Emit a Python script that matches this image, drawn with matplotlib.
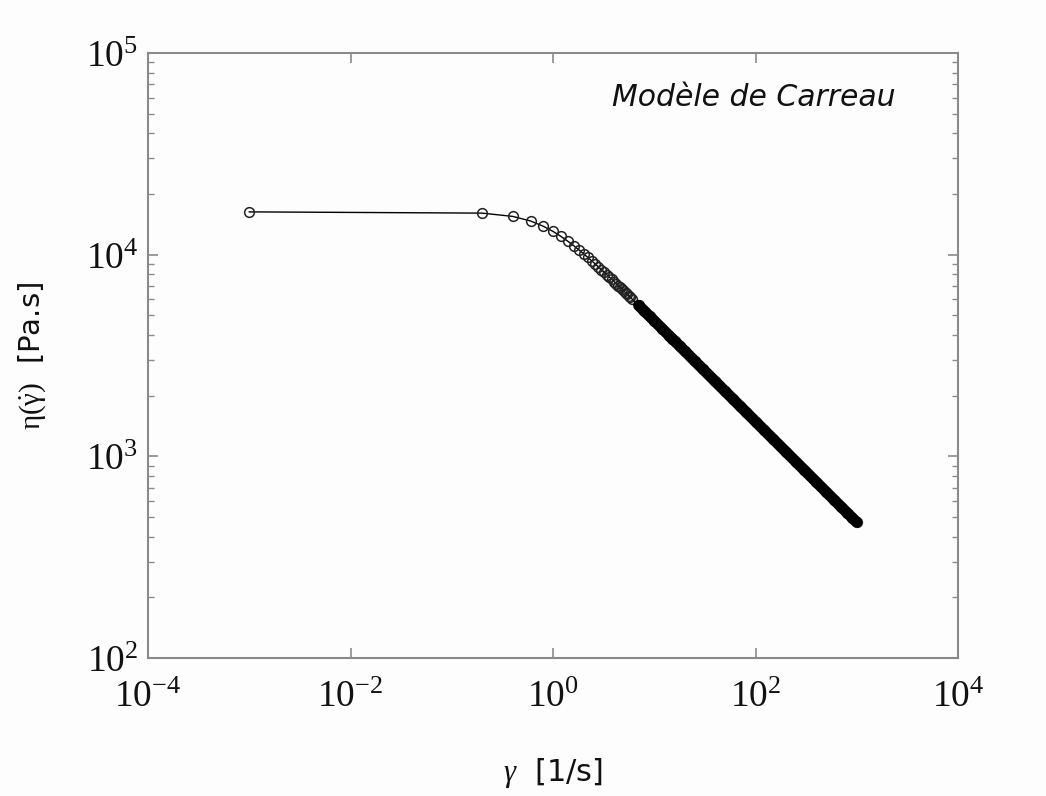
import matplotlib
matplotlib.use("Agg")
import matplotlib.pyplot as plt
from matplotlib.ticker import FixedLocator, FixedFormatter, LogLocator, NullFormatter
import numpy as np

plt.rcParams['mathtext.fontset'] = 'custom'
plt.rcParams['mathtext.rm'] = 'Liberation Serif'
plt.rcParams['mathtext.it'] = 'Liberation Serif:italic'

# shear rate [1/s]
shear_rate = [0.001, 0.2, 0.4, 0.6, 0.8, 1.0, 1.2, 1.4, 1.6, 1.8, 2.0, 2.2, 2.4, 2.6,
              2.8, 3.0, 3.2, 3.4, 3.6, 3.8, 4.0, 4.2, 4.4, 4.6, 4.8, 5.0, 5.2, 5.4,
              5.6, 5.8, 6.0, 7, 8, 9, 10, 12, 14, 15, 16, 18, 20, 25, 30, 40, 50,
              60, 70, 80, 100, 120, 150, 200, 250, 300, 400, 500, 600, 700, 800,
              900, 1000]
# viscosity [Pa.s]
viscosity = [16300, 16070, 15480, 14690, 13840, 13040, 12310, 11660, 11080, 10570,
             10110, 9700, 9340, 9010, 8710, 8430, 8180, 7950, 7740, 7540, 7360,
             7191, 7032, 6882, 6742, 6610, 6484, 6365, 6253, 6147, 6046, 5605, 5247,
             4949, 4697, 4290, 3973, 3839, 3720, 3507, 3327, 2976, 2717, 2353, 2104,
             1921, 1778, 1664, 1488, 1358, 1215, 1052, 941, 859, 744, 665, 607, 562,
             526, 496, 471]

x_ticks = [1e-4, 1e-2, 1e0, 1e2, 1e4]
x_tick_labels = [r'$\mathrm{10^{-4}}$', r'$\mathrm{10^{-2}}$', r'$\mathrm{10^{0}}$',
                 r'$\mathrm{10^{2}}$', r'$\mathrm{10^{4}}$']
y_ticks = [1e2, 1e3, 1e4, 1e5]
y_tick_labels = [r'$\mathrm{10^{2}}$', r'$\mathrm{10^{3}}$', r'$\mathrm{10^{4}}$',
                 r'$\mathrm{10^{5}}$']

bg = '#fdfdfd'
fig = plt.figure(figsize=(10.46, 7.96), dpi=100, facecolor=bg)
ax = fig.add_axes([0.1415, 0.1734, 0.7744, 0.76])
ax.set_facecolor(bg)

sr = np.array(shear_rate)
vi = np.array(viscosity)
dense = sr >= 7
ax.plot(sr[dense], vi[dense], '-', color='black', lw=8, solid_capstyle='round', zorder=5)
ax.plot(sr, vi, '-', color='black', lw=1.0, zorder=3)
ax.plot(sr, vi, 'o', mfc='none', mec='#222222', ms=7, mew=1.1, zorder=4)

ax.set_xscale('log')
ax.set_yscale('log')
ax.set_xlim(1e-4, 1e4)
ax.set_ylim(1e2, 1e5)

ax.xaxis.set_major_locator(FixedLocator(x_ticks))
ax.xaxis.set_major_formatter(FixedFormatter(x_tick_labels))
ax.xaxis.set_minor_locator(FixedLocator([]))
ax.yaxis.set_major_locator(FixedLocator(y_ticks))
ax.yaxis.set_major_formatter(FixedFormatter(y_tick_labels))
ax.yaxis.set_minor_locator(LogLocator(base=10, subs=np.arange(2, 10)))
ax.yaxis.set_minor_formatter(NullFormatter())

spine_c = '#8a8a8a'
for s in ax.spines.values():
    s.set_color(spine_c)
    s.set_linewidth(1.5)
ax.tick_params(which='both', direction='in', top=True, right=True, colors=spine_c,
               labelcolor='#111111')
ax.tick_params(which='major', length=7, width=1.2, labelsize=27)
ax.tick_params(axis='y', which='major', pad=7)
ax.tick_params(axis='x', which='major', pad=15)
ax.tick_params(which='minor', length=4, width=1.0)

ax.set_xlabel(r'$\gamma$  [1/s]', fontsize=22, labelpad=30, color='#111111')
ax.set_ylabel(r'$\mathrm{\eta(\dot{\gamma})}$  [Pa.s]', fontsize=21, labelpad=27, color='#111111')

ax.text(0.573, 0.927, 'Modèle de Carreau', transform=ax.transAxes, fontsize=21.5,
        style='italic', family='DejaVu Sans', color='#111111', va='center', ha='left')

fig.savefig('out.png', dpi=100, facecolor=bg)
